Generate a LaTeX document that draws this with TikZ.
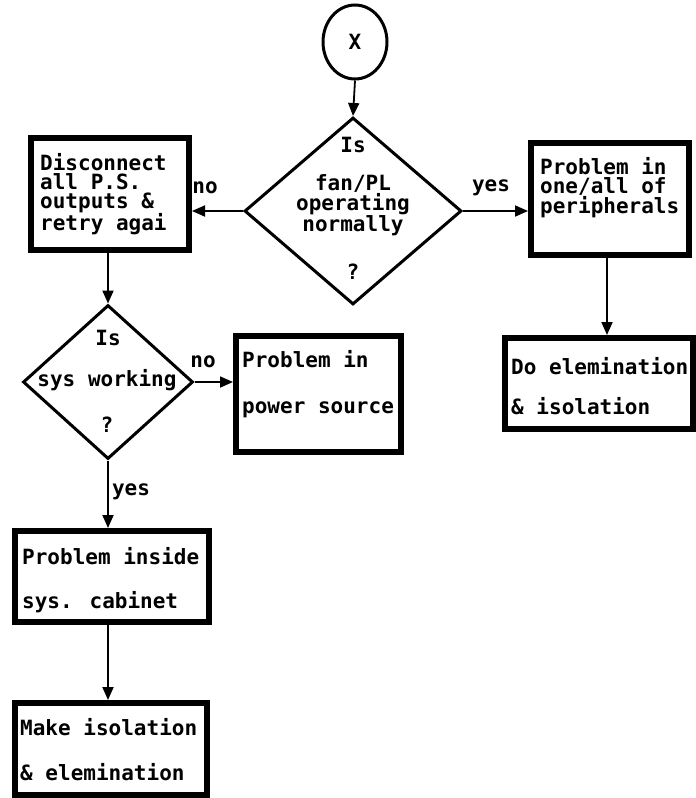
\documentclass[tikz,border=0pt]{standalone}
\usepackage{fontspec}
\newfontfamily\boxfont{DejaVu Sans Mono}
\usetikzlibrary{arrows.meta,shapes.geometric,fit}
\begin{document}
\begin{tikzpicture}[x=1pt,y=-1pt,
  flowbox/.style={draw, line width=6pt, inner sep=0pt},
  decision/.style={draw, diamond, line width=3pt, inner sep=0pt},
  connector/.style={line width=1.8pt, -{Triangle[length=13pt,width=11pt]}},
  bodytext/.style={font=\boxfont\bfseries\fontsize{21}{19}\selectfont, inner sep=0pt, align=left, anchor=north west},
  centertext/.style={font=\boxfont\bfseries\fontsize{21}{19}\selectfont, inner sep=0pt, align=center},
  wide/.style={font=\boxfont\bfseries\fontsize{21}{#1}\selectfont}
]
\useasboundingbox (0,0) rectangle (696,798);
\fill[white] (0,0) rectangle (696,798);

% connector circle
\node[draw, ellipse, line width=3pt, minimum width=64pt, minimum height=74pt, inner sep=0pt,
      font=\boxfont\bfseries\fontsize{21}{19}\selectfont] (x) at (355,42) {X};

% first decision
\node[decision, minimum width=217pt, minimum height=187pt] (d1) at (353,211) {};
\node[centertext] (d1is) at (353,145) {Is};
\node[centertext] (d1q) at (353,205) {fan/PL\\operating\\normally};
\node[centertext] (d1m) at (353,272) {?};

% process boxes
\node[flowbox, fit={(31,138) (189,250)}] (dis) {};
\node[bodytext] (distext) at (40,153) {Disconnect\\all P.S.\\outputs \&\\retry agai};

\node[flowbox, fit={(531,143) (689,255)}] (per) {};
\node[bodytext] (pertext) at (540,157) {Problem in\\one/all of\\peripherals};

% second decision
\node[decision, minimum width=170pt, minimum height=154pt] (d2) at (108,382) {};
\node[centertext] (d2is) at (108,338) {Is};
\node[centertext] (d2q) at (107,380) {sys working};
\node[centertext] (d2m) at (107,425) {?};

\node[flowbox, fit={(236,336) (401,452)}] (pow) {};
\node[bodytext, wide=46] (powtext) at (242,350) {Problem in\\power source};

\node[flowbox, fit={(505,338) (693,429)}] (elim) {};
\node[bodytext, wide=40] (elimtext) at (511,357) {Do elemination\\\& isolation};

\node[flowbox, fit={(15,531) (209,622)}] (inside) {};
\node[bodytext, wide=44] (insidetext) at (22,547) {Problem inside\\sys. cabinet};

\node[flowbox, fit={(15,703) (207,795)}] (make) {};
\node[bodytext, wide=45] (maketext) at (20,718) {Make isolation\\\& elemination};

% branch labels
\node[centertext] (no1) at (205,188) {no};
\node[centertext] (yes1) at (491,188) {yes};
\node[centertext] (no2) at (203,362) {no};
\node[centertext] (yes2) at (131,492) {yes};

% connectors
\draw[connector] (x.south) -- (d1.north);
\draw[connector] (d1.west) -- (d1.west -| dis.east);
\draw[connector] (d1.east) -- (d1.east -| per.west);
\draw[connector] (d2.north |- dis.south) -- (d2.north);
\draw[connector] (d2.east) -- (d2.east -| pow.west);
\draw[connector] (d2.south) -- (d2.south |- inside.north);
\draw[connector] (d2.south |- inside.south) -- (d2.south |- make.north);
\draw[connector] (607,0 |- per.south) -- (607,0 |- elim.north);
\end{tikzpicture}
\end{document}
